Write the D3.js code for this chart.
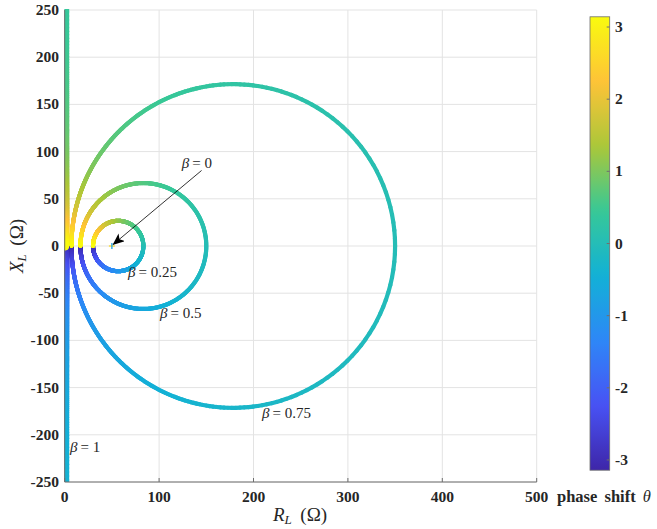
<!DOCTYPE html>
<html>
<head>
<meta charset="utf-8">
<script src="https://cdn.jsdelivr.net/npm/d3@7"></script>
<style>
  body { margin: 0; background: #fff; }
  text { font-family: "Liberation Serif", "Times New Roman", serif; }
</style>
</head>
<body>
<svg id="chart" width="657" height="529"></svg>
<script>
// Load impedance Z_L = Z0 (1 + Γ) / (1 - Γ), with Γ = β·e^{jθ}
const Z0 = 50;
const betas = [0, 0.25, 0.5, 0.75, 1];
const betaText = ["0", "0.25", "0.5", "0.75", "1"];
// annotation anchors (data units: R, X)
const labelR = [124, 67, 101, 209, 5.6];
const labelX = [82.6, -33, -76, -182, -218];
const arrowFrom = [145, 80];
const arrowTo = [51.5, 1.8];

const xTicks = [0, 100, 200, 300, 400, 500];
const yTicks = [-250, -200, -150, -100, -50, 0, 50, 100, 150, 200, 250];
const cbTicks = [-3, -2, -1, 0, 1, 2, 3];

// parula colour stops
const parulaStops = [
  [0.2422, 0.1504, 0.6603],
  [0.2810, 0.3228, 0.9579],
  [0.1786, 0.5289, 0.9682],
  [0.0689, 0.6948, 0.8394],
  [0.2161, 0.7843, 0.5923],
  [0.6720, 0.7793, 0.2227],
  [0.9970, 0.7659, 0.2199],
  [0.9763, 0.9831, 0.0538]
].map(c => d3.rgb(c[0] * 255, c[1] * 255, c[2] * 255).formatHex());
const parula = d3.piecewise(d3.interpolateRgb, parulaStops);

const svg = d3.select("#chart");
const plot = { left: 64.7, right: 536.7, top: 10, bottom: 482 };

const x = d3.scaleLinear().domain([0, 500]).range([plot.left, plot.right]);
const y = d3.scaleLinear().domain([-250, 250]).range([plot.bottom, plot.top]);
const color = d3.scaleSequential(parula).domain([-Math.PI, Math.PI]);

// grid
const grid = svg.append("g").attr("stroke", "#e3e3e3").attr("stroke-width", 1);
grid.selectAll(".gx").data(xTicks).join("line")
  .attr("x1", d => x(d)).attr("x2", d => x(d))
  .attr("y1", plot.top).attr("y2", plot.bottom);
grid.selectAll(".gy").data(yTicks).join("line")
  .attr("x1", plot.left).attr("x2", plot.right)
  .attr("y1", d => y(d)).attr("y2", d => y(d));

svg.append("defs").append("clipPath").attr("id", "clip")
  .append("rect")
  .attr("x", plot.left).attr("y", plot.top - 1)
  .attr("width", plot.right - plot.left).attr("height", plot.bottom - plot.top + 1);

// impedance for a given β and θ
function zl(beta, th) {
  const gr = beta * Math.cos(th), gi = beta * Math.sin(th);
  const nr = 1 + gr, ni = gi, dr = 1 - gr, di = -gi;
  const den = dr * dr + di * di;
  return [Z0 * (nr * dr + ni * di) / den, Z0 * (ni * dr - nr * di) / den];
}

const N = 900;
const thetas = d3.range(N + 1).map(i => -Math.PI + 2 * Math.PI * i / N);

const curves = svg.append("g").attr("clip-path", "url(#clip)");
betas.forEach((b, k) => {
  if (b === 0) return;
  const segs = [];
  for (let i = 0; i < N; i++) {
    const t0 = thetas[i], t1 = thetas[i + 1];
    if (b === 1 && (Math.abs(t0) < 1e-3 || Math.abs(t1) < 1e-3 || t0 * t1 < 0)) continue;
    const p0 = zl(b, t0), p1 = zl(b, t1);
    if (Math.abs(p0[1]) > 3000 || Math.abs(p1[1]) > 3000) continue;
    segs.push({ p0, p1, th: (t0 + t1) / 2 });
  }
  curves.append("g")
    .selectAll("line").data(segs).join("line")
    .attr("x1", d => x(d.p0[0])).attr("y1", d => y(d.p0[1]))
    .attr("x2", d => x(d.p1[0])).attr("y2", d => y(d.p1[1]))
    .attr("stroke", d => color(d.th))
    .attr("stroke-width", b === 1 ? 9 : 4.2)
    .attr("stroke-linecap", "round");
});

// β = 0 collapses to a single point at Z0
const p0 = zl(0, 0);
const mk = svg.append("g").attr("transform", `translate(${x(p0[0])},${y(p0[1])})`);
mk.append("line").attr("x1", -3).attr("x2", 3).attr("y1", 0).attr("y2", 0)
  .attr("stroke", color(2.6)).attr("stroke-width", 1.3);
mk.append("line").attr("x1", 0).attr("x2", 0).attr("y1", -3).attr("y2", 3)
  .attr("stroke", color(-0.8)).attr("stroke-width", 1.3);

// axes
const axisColor = "#6e6e6e";
svg.append("line").attr("x1", plot.left).attr("x2", plot.right)
  .attr("y1", plot.bottom).attr("y2", plot.bottom)
  .attr("stroke", axisColor).attr("stroke-width", 1);
svg.append("line").attr("x1", plot.left).attr("x2", plot.left)
  .attr("y1", plot.top).attr("y2", plot.bottom)
  .attr("stroke", axisColor).attr("stroke-width", 1);
svg.append("g").selectAll("line").data(xTicks).join("line")
  .attr("x1", d => x(d)).attr("x2", d => x(d))
  .attr("y1", plot.bottom).attr("y2", plot.bottom - 4)
  .attr("stroke", axisColor);

svg.append("g").selectAll("text").data(xTicks).join("text")
  .attr("x", d => x(d)).attr("y", 502)
  .attr("text-anchor", "middle").attr("font-size", 15.5).attr("font-weight", "bold")
  .attr("fill", "#262626")
  .text(d => d);
svg.append("g").selectAll("text").data(yTicks).join("text")
  .attr("x", 59).attr("y", d => y(d) + 5)
  .attr("text-anchor", "end").attr("font-size", 15.5).attr("font-weight", "bold")
  .attr("fill", "#262626")
  .text(d => d);

// axis titles
const xt = svg.append("text").attr("x", 300).attr("y", 521)
  .attr("text-anchor", "middle").attr("font-size", 19).attr("fill", "#262626");
xt.append("tspan").attr("font-style", "italic").text("R");
xt.append("tspan").attr("font-style", "italic").attr("font-size", 13).attr("dy", 3).text("L");
xt.append("tspan").attr("dy", -3).text("\u2009 (Ω)");

const yt = svg.append("text")
  .attr("transform", `translate(23,${(plot.top + plot.bottom) / 2}) rotate(-90)`)
  .attr("text-anchor", "middle").attr("font-size", 19).attr("fill", "#262626");
yt.append("tspan").attr("font-style", "italic").text("X");
yt.append("tspan").attr("font-style", "italic").attr("font-size", 13).attr("dy", 3).text("L");
yt.append("tspan").attr("dy", -3).text("\u2009 (Ω)");

// β annotations
betas.forEach((b, k) => {
  const t = svg.append("text")
    .attr("x", x(labelR[k])).attr("y", y(labelX[k]))
    .attr("font-size", 15).attr("fill", "#262626");
  t.append("tspan").attr("font-style", "italic").text("β");
  t.append("tspan").text("\u2009= " + betaText[k]);
});

// arrow pointing at the β = 0 point
svg.append("defs").append("marker")
  .attr("id", "arrowhead").attr("viewBox", "0 0 12 10")
  .attr("refX", 11).attr("refY", 5)
  .attr("markerWidth", 12).attr("markerHeight", 10)
  .attr("markerUnits", "userSpaceOnUse")
  .attr("orient", "auto")
  .append("path").attr("d", "M0,0 L12,5 L0,10 L3,5 Z").attr("fill", "#000");
svg.append("line")
  .attr("x1", x(arrowFrom[0])).attr("y1", y(arrowFrom[1]))
  .attr("x2", x(arrowTo[0])).attr("y2", y(arrowTo[1]))
  .attr("stroke", "#000").attr("stroke-width", 0.8)
  .attr("marker-end", "url(#arrowhead)");

// colour bar
const cb = { x: 590, w: 19.7, top: 16.8, bottom: 470.2 };
const cy = d3.scaleLinear().domain([-Math.PI, Math.PI]).range([cb.bottom, cb.top]);
const grad = svg.append("defs").append("linearGradient")
  .attr("id", "cbgrad").attr("x1", 0).attr("x2", 0).attr("y1", 1).attr("y2", 0);
d3.range(0, 1.0001, 0.02).forEach(t => {
  grad.append("stop").attr("offset", t).attr("stop-color", parula(t));
});
svg.append("rect").attr("x", cb.x).attr("y", cb.top)
  .attr("width", cb.w).attr("height", cb.bottom - cb.top)
  .attr("fill", "url(#cbgrad)").attr("stroke", axisColor).attr("stroke-width", 0.8);
svg.append("g").selectAll("line").data(cbTicks).join("line")
  .attr("x1", cb.x + cb.w - 3).attr("x2", cb.x + cb.w)
  .attr("y1", d => cy(d)).attr("y2", d => cy(d))
  .attr("stroke", axisColor);
svg.append("g").selectAll("text").data(cbTicks).join("text")
  .attr("x", 615).attr("y", d => cy(d) + 5)
  .attr("font-size", 15.5).attr("font-weight", "bold").attr("fill", "#262626")
  .text(d => d);
const cbt = svg.append("text").attr("x", 557).attr("y", 502)
  .attr("font-size", 16.5).attr("font-weight", "bold").attr("fill", "#262626")
  .attr("word-spacing", 3);
cbt.append("tspan").text("phase shift ");
cbt.append("tspan").attr("font-style", "italic").attr("font-weight", "normal").text("θ");
</script>
</body>
</html>
